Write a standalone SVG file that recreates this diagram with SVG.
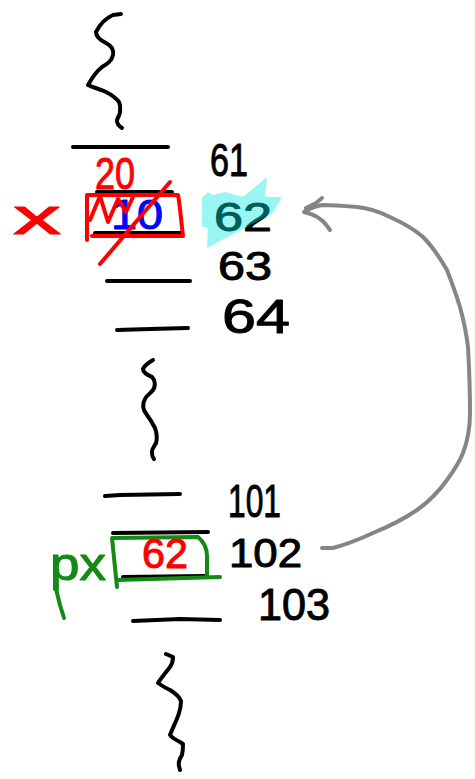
<svg xmlns="http://www.w3.org/2000/svg" width="475" height="779" viewBox="0 0 475 779">
<style>
.ink{fill:none;stroke:#000;stroke-width:4;stroke-linecap:round;stroke-linejoin:round}
.red{fill:none;stroke:#ff0000;stroke-width:4;stroke-linecap:round;stroke-linejoin:round}
.grn{fill:none;stroke:#138a13;stroke-width:4;stroke-linecap:round;stroke-linejoin:round}
.gry{fill:none;stroke:#858585;stroke-width:4;stroke-linecap:round;stroke-linejoin:round}
text{font-family:"Liberation Sans",Arial,sans-serif;stroke-width:1;stroke-linejoin:round}
.num{fill:#000;stroke:#000}
.tr{fill:#ff0000;stroke:#ff0000}
.tb{fill:#0000ff;stroke:#0000ff}
.tg{fill:#138a13;stroke:#138a13}
</style>
<rect width="475" height="779" fill="#fff"/>

<g id="squiggle-top">
<path class="ink" d="M121,14 L113,15 C106,18 100,24 96,32 C96,37 100,40 106,43 C112,46 114,50 113,55 C112,61 107,64 102,67 C97,71 93,76 88,85 C94,88 100,89 106,92 C112,95 116,98 119,102 C121,106 120,109 120,112 C120,115 117,118 117,121 C117,124 119,126 122,128"/>
</g>

<g id="cell-61">
<path class="ink" d="M73,147 L168,147"/>
<text class="num" x="210" y="176" font-size="47" textLength="38" lengthAdjust="spacingAndGlyphs">61</text>
</g>

<g id="cell-62">
<path class="ink" d="M97,192 L172,192"/>
<path class="ink" d="M95,233 L182,233"/>
<text class="tb" x="111" y="229" font-size="42" textLength="52" lengthAdjust="spacingAndGlyphs">10</text>
<text class="num" x="214" y="231" font-size="40" textLength="58" lengthAdjust="spacingAndGlyphs">62</text>
<polygon points="202,198 208,192 213,195 225,192 243,197 267,177 265,197 282,197 273,213 207,248 208,228 202,227" fill="#00e8e0" fill-opacity="0.4"/>
</g>

<g id="var-x">
<path class="red" d="M87,240 L87,195 L178,195 C180,205 181,220 183,236 L92,236"/>
<path class="red" d="M90,220 L100,196 L108,222 L118,199 L126,212 L133,197"/>
<text class="tr" x="95" y="189" font-size="44" textLength="40" lengthAdjust="spacingAndGlyphs">20</text>
<path class="red" d="M100,264 L170,182"/>
<text class="tr" x="13" y="234" font-size="50" textLength="48" lengthAdjust="spacingAndGlyphs">x</text>
</g>

<g id="cell-63">
<path class="ink" d="M107,281 L190,281"/>
<text class="num" x="218" y="280" font-size="40" textLength="54" lengthAdjust="spacingAndGlyphs">63</text>
</g>

<g id="cell-64">
<path class="ink" d="M117,330 L150,329 L188,328"/>
<text class="num" x="222" y="333" font-size="48" textLength="68" lengthAdjust="spacingAndGlyphs">64</text>
</g>

<g id="squiggle-mid">
<path class="ink" d="M153,360 C148,363 144,366 143,369 C143,373 148,375 152,377 C155,380 156,386 153,390 C150,394 146,396 145,399 C142,404 143,410 147,415 C150,419 153,424 155,428 C157,434 157,440 156,443 C154,447 151,450 152,453 C152,456 153,458 154,459"/>
</g>

<g id="cell-101">
<path class="ink" d="M105,496 L120,495 L180,494"/>
<text class="num" x="228" y="517" font-size="47" textLength="53" lengthAdjust="spacingAndGlyphs">101</text>
</g>

<g id="cell-102">
<path class="ink" d="M113,533 L208,532"/>
<path class="ink" d="M123,577 L205,576"/>
<text class="num" x="229" y="567" font-size="41" textLength="73" lengthAdjust="spacingAndGlyphs">102</text>
</g>

<g id="var-px">
<path class="grn" d="M117,587 L112,538 L198,537 C204,542 207,548 207,556 L207,577"/>
<path class="grn" d="M117,580 L220,577"/>
<text class="tr" x="142" y="568" font-size="42" textLength="46" lengthAdjust="spacingAndGlyphs">62</text>
<text class="tg" x="50" y="580" font-size="46" textLength="56" lengthAdjust="spacingAndGlyphs">px</text>
<path class="grn" d="M55,585 L60,605 L64,618"/>
</g>

<g id="cell-103">
<path class="ink" d="M133,621 L180,619 L220,620"/>
<text class="num" x="258" y="620" font-size="45" textLength="72" lengthAdjust="spacingAndGlyphs">103</text>
</g>

<g id="squiggle-bottom">
<path class="ink" d="M166,654 L173,657 C173,661 172,664 170,667 C166,672 161,678 158,683 C162,686 166,688 170,690 C175,693 179,696 181,701 C181,706 180,710 179,713 C177,720 173,727 170,735 C172,738 176,740 180,742 L183,744 C183,748 183,751 182,755 C180,758 178,762 179,766 L180,770"/>
</g>

<g id="connectors">
<path class="gry" d="M322,548 L333,548 C348,544 360,539 373,533 C390,526 404,519 417,510 C430,501 439,491 447,480 C455,469 460,461 463,453 C468,440 470,425 470,413 C470,390 469,365 468,347 C466,330 463,318 460,307 C456,294 452,283 447,270 C440,258 432,246 423,237 C413,228 401,222 390,217 C380,212 368,208 357,207 C345,206 333,205 323,205 C316,206 311,208 305,211"/>
<path class="gry" d="M304,212 C314,214 322,219 327,226 L330,230"/>
<path class="gry" d="M306,208 L316,203 L322,198"/>
</g>
</svg>
